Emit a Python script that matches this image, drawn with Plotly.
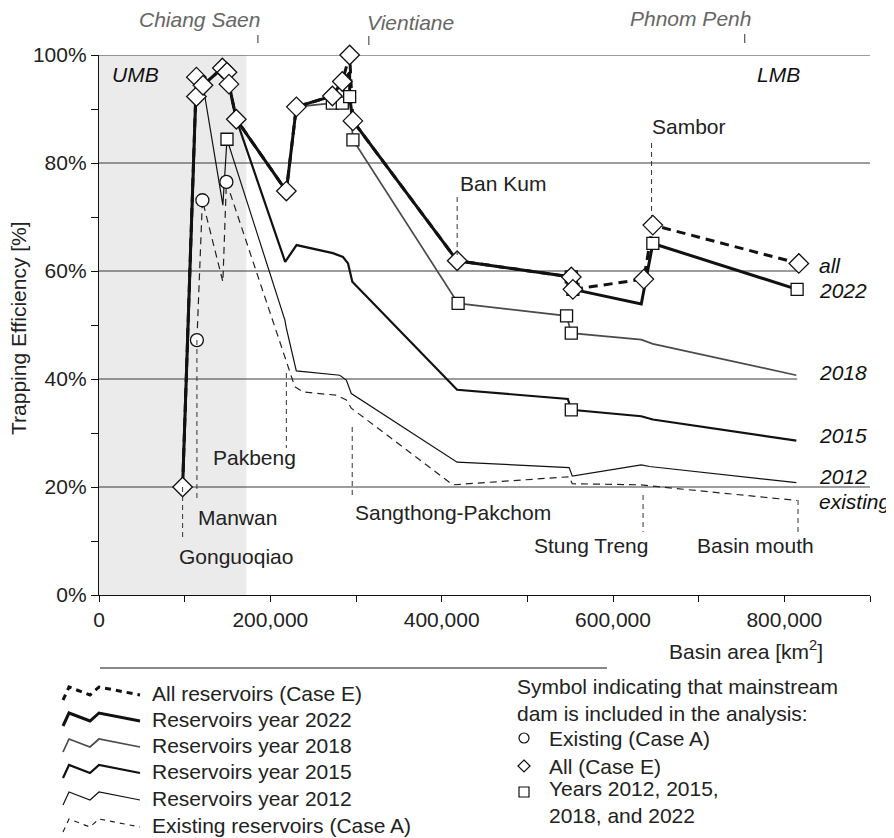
import plotly.graph_objects as go

# ---------------- data (basin area in km², trapping efficiency in %) ----------------
case_e_area = [97600, 113700, 113700, 121400, 144000, 149400, 151700, 160300, 218700, 230400,
               272400, 284000, 292600, 296400, 418100, 551300, 553200, 636000, 646500, 816900]
case_e_te = [20.0, 92.3, 95.9, 94.4, 97.6, 96.8, 94.6, 88.1, 74.8, 90.4,
             92.4, 95.1, 100.0, 87.8, 61.9, 58.9, 56.6, 58.5, 68.5, 61.4]

y2022_area = [97600, 113700, 113700, 121400, 144000, 149400, 151700, 160300, 218700, 230400,
              272400, 284000, 292600, 292600, 296400, 418100, 551300, 553200, 633000, 646500, 814900]
y2022_te = [20.0, 92.3, 95.9, 94.4, 97.6, 96.8, 94.6, 88.1, 74.8, 90.4,
            92.4, 95.1, 96.7, 92.3, 87.8, 61.9, 58.9, 56.6, 53.9, 65.1, 56.6]

y2018_area = [97600, 113700, 113700, 121400, 144000, 149400, 151700, 160300, 218700, 230400,
              272400, 284000, 292600, 296400, 419200, 545800, 551300, 633000, 646500, 814000]
y2018_te = [20.0, 92.3, 95.9, 94.4, 97.6, 96.8, 94.6, 88.1, 74.8, 90.4,
            91.1, 91.1, 92.3, 84.3, 54.0, 51.7, 48.5, 47.3, 46.5, 40.7]

y2015_area = [97600, 113700, 113700, 121400, 144000, 149400, 151700, 160300, 217300, 230600,
              273000, 284800, 290700, 295700, 418000, 547300, 551300, 633000, 646500, 814000]
y2015_te = [20.0, 92.3, 95.9, 94.4, 97.6, 96.8, 94.6, 88.1, 61.7, 64.8,
            63.3, 62.6, 61.4, 58.0, 38.0, 36.3, 34.3, 33.1, 32.5, 28.6]

y2012_area = [97600, 113700, 113700, 121400, 144600, 149400, 217000, 218700, 230300, 281000,
              288700, 294500, 418000, 548800, 552500, 633000, 642600, 814000]
y2012_te = [20.0, 92.3, 95.9, 94.4, 72.2, 84.4, 50.9, 49.4, 41.5, 40.7,
            39.8, 37.3, 24.6, 23.6, 22.0, 24.1, 23.8, 20.8]

existing_area = [114300, 120700, 144600, 148700, 228500, 238000, 277000, 288700, 294500,
                 413000, 548800, 552500, 633000, 650000, 815000]
existing_te = [47.2, 73.1, 58.0, 76.5, 38.6, 37.6, 37.0, 36.1, 34.6,
               20.4, 21.9, 20.6, 20.4, 20.1, 17.5]

circle_area = [114300, 120700, 148700]
circle_te = [47.2, 73.1, 76.5]

square_area = [149400, 272400, 284000, 292600, 296400, 419200, 545800, 551300, 553200,
               551300, 551300, 646500, 814900]
square_te = [84.4, 91.1, 91.1, 92.3, 84.3, 54.0, 51.7, 58.9, 56.6, 48.5, 34.3, 65.1, 56.6]

# dam labels: text, basin area of the dam
dam_names = ["Gonguoqiao", "Manwan", "Pakbeng", "Sangthong-Pakchom", "Ban Kum",
             "Sambor", "Stung Treng", "Basin mouth"]
dam_area = [97600, 114300, 218700, 295600, 418100, 645000, 635100, 816000]

city_names = ["Chiang Saen", "Vientiane", "Phnom Penh"]
city_area = [185500, 315000, 753800]

end_labels = ["all", "2022", "2018", "2015", "2012", "existing"]
x_ticks_major = [0, 200000, 400000, 600000, 800000]

# ---------------- layout helpers (reference pixel -> paper) ----------------
# the html page adds an 8px body margin, so the figure is drawn 8px smaller and
# all reference pixel positions are expressed relative to the page.
OFF = 8
W, H = 894 - OFF, 838 - OFF
PL, PT, PW, PH = 99, 55, 771, 540          # plot area in page pixels
XMAX = 900000


def fx(p):
    return (p - PL) / PW


def fy(p):
    return (PT + PH - p) / PH


def ty(p):  # page pixel y -> data %
    return (PT + PH - p) / PH * 100


FONT = "Liberation Sans, Arial, Helvetica, sans-serif"
FS = 21
TXT = "#222222"

fig = go.Figure()


def add_line(x, y, width, color, dash="solid"):
    fig.add_trace(go.Scatter(x=x, y=y, mode="lines",
                             line=dict(width=width, color=color, dash=dash),
                             hoverinfo="skip", showlegend=False, cliponaxis=False))


add_line(existing_area, existing_te, 1.2, "#222222", "7px,5px")
add_line(y2012_area, y2012_te, 1.2, "#111111")
add_line(y2015_area, y2015_te, 2.2, "#111111")
add_line(y2018_area, y2018_te, 1.7, "#4a4a4a")
add_line(case_e_area, case_e_te, 3.0, "#111111", "9px,6px")
add_line(y2022_area, y2022_te, 3.0, "#111111")

MK = dict(color="white", line=dict(color="#111111", width=1.3))
fig.add_trace(go.Scatter(x=square_area, y=square_te, mode="markers",
                         marker=dict(symbol="square", size=12, **MK),
                         hoverinfo="skip", showlegend=False, cliponaxis=False))
fig.add_trace(go.Scatter(x=circle_area, y=circle_te, mode="markers",
                         marker=dict(symbol="circle", size=13, **MK),
                         hoverinfo="skip", showlegend=False, cliponaxis=False))
fig.add_trace(go.Scatter(x=case_e_area, y=case_e_te, mode="markers",
                         marker=dict(symbol="diamond", size=15, **MK),
                         hoverinfo="skip", showlegend=False, cliponaxis=False))

shapes = []
# shaded upper Mekong basin
shapes.append(dict(type="rect", xref="x", yref="y", x0=0, x1=172000, y0=0, y1=100,
                   fillcolor="#ebebeb", line=dict(width=0), layer="below"))
# horizontal reference lines
for yv, xe in [(20, XMAX), (40, 815000), (60, 815000), (80, XMAX), (100, XMAX)]:
    shapes.append(dict(type="line", xref="x", yref="y", x0=0, x1=xe, y0=yv, y1=yv,
                       line=dict(color="#3a3a3a", width=1.2), layer="below"))

# leader lines for dam labels (page pixel extents)
leader_px = [(487, 537), (340, 500), (373, 448), (427, 495), (197, 255),
             (143, 218), (495, 532), (500, 532)]
for a, (p0, p1) in zip(dam_area, leader_px):
    shapes.append(dict(type="line", xref="x", yref="y", x0=a, x1=a, y0=ty(p0), y1=ty(p1),
                       line=dict(color="#333333", width=1, dash="5px,4px")))

# city ticks above the plot
for a, (p0, p1) in zip(city_area, [(35, 43), (36, 45), (34, 43)]):
    shapes.append(dict(type="line", xref="x", yref="paper", x0=a, x1=a, y0=fy(p0), y1=fy(p1),
                       line=dict(color="#333333", width=1)))

# separator line above the legend
shapes.append(dict(type="line", xref="paper", yref="paper", x0=fx(100), x1=fx(607),
                   y0=fy(668), y1=fy(668), line=dict(color="#111111", width=1.2)))

# legend icons (zigzag glyphs)
legend_rows = [693, 719, 745, 771, 798, 825]
legend_text = ["All reservoirs (Case E)", "Reservoirs year 2022", "Reservoirs year 2018",
               "Reservoirs year 2015", "Reservoirs year 2012", "Existing reservoirs (Case A)"]
legend_style = [(3.0, "#111111", "6px,5px"), (3.0, "#111111", "solid"),
                (1.7, "#4a4a4a", "solid"), (2.2, "#111111", "solid"),
                (1.2, "#111111", "solid"), (1.2, "#222222", "5px,5px")]
for c, (w, col, d) in zip(legend_rows, legend_style):
    pts = [(63, c + 7), (69, c - 6), (90, c + 2), (99, c - 6), (140, c + 2)]
    path = "M " + " L ".join(f"{fx(px):.5f},{fy(py):.5f}" for px, py in pts)
    shapes.append(dict(type="path", xref="paper", yref="paper", path=path,
                       line=dict(color=col, width=w, dash=d)))

# symbol key shapes
cx = 524
shapes.append(dict(type="circle", xref="paper", yref="paper",
                   x0=fx(cx - 5), x1=fx(cx + 5), y0=fy(738 + 5), y1=fy(738 - 5),
                   line=dict(color="#111111", width=1.2)))
dpath = "M {} {} L {} {} L {} {} L {} {} Z".format(
    fx(cx), fy(766 - 6), fx(cx + 6), fy(766), fx(cx), fy(766 + 6), fx(cx - 6), fy(766))
shapes.append(dict(type="path", xref="paper", yref="paper", path=dpath,
                   line=dict(color="#111111", width=1.2)))
shapes.append(dict(type="rect", xref="paper", yref="paper",
                   x0=fx(cx - 5), x1=fx(cx + 5), y0=fy(792 + 5), y1=fy(792 - 5),
                   line=dict(color="#111111", width=1.2)))

ann = []


def text(t, x, y, xanchor="left", italic=False, color=TXT, size=FS, angle=0, align="left"):
    ann.append(dict(text=f"<i>{t}</i>" if italic else t, xref="paper", yref="paper",
                    x=fx(x), y=fy(y), xanchor=xanchor, yanchor="middle", showarrow=False,
                    textangle=angle, align=align,
                    font=dict(family=FONT, size=size, color=color)))


# city names
text(city_names[0], 262, 20, "right", True, "#666666")
text(city_names[1], 365, 22, "left", True, "#666666")
text(city_names[2], 753, 18, "right", True, "#666666")
text("UMB", 110, 74, "left", True, "#111111")
text("LMB", 755, 74, "left", True, "#111111")

# dam labels
dam_pos = [(177, 556, "left"), (196, 517, "left"), (211, 457, "left"), (353, 512, "left"),
           (458, 183, "left"), (650, 127, "left"), (650, 545, "right"), (816, 545, "right")]
for name, (x, y, xa) in zip(dam_names, dam_pos):
    text(name, x, y, xa)

# scenario end labels
for lab, y in zip(end_labels, [265, 290, 372, 436, 476, 502]):
    text(lab, 817, y, "left", True, "#111111")

text("Basin area [km<sup>2</sup>]", 825, 650, "right")
text("Trapping Efficiency [%]", 18, 328, "center", angle=-90)

# legend texts
for t, y in zip(legend_text, legend_rows):
    text(t, 150, y)
text("Symbol indicating that mainstream<br>dam is included in the analysis:", 515, 700)
text("Existing (Case A)", 547, 738)
text("All (Case E)", 547, 766)
text("Years 2012, 2015,<br>2018, and 2022", 547, 802)

fig.update_layout(
    width=W, height=H,
    margin=dict(l=PL - OFF, r=W - (PL - OFF) - PW, t=PT - OFF, b=H - (PT - OFF) - PH, pad=0),
    paper_bgcolor="white", plot_bgcolor="white",
    font=dict(family=FONT, size=FS, color=TXT),
    showlegend=False,
    shapes=shapes, annotations=ann,
    xaxis=dict(range=[0, XMAX], showgrid=False, zeroline=False, showline=True,
               linecolor="#111111", linewidth=1.3, ticks="outside", ticklen=6,
               tickwidth=1.3, tickcolor="#111111", tickvals=x_ticks_major,
               tickformat=",d", tickfont=dict(size=FS, color=TXT),
               minor=dict(dtick=100000, tick0=0, ticks="outside", ticklen=6,
                          tickwidth=1.3, tickcolor="#111111", showgrid=False)),
    yaxis=dict(range=[0, 100], showgrid=False, zeroline=False, showline=True,
               linecolor="#111111", linewidth=1.3, ticks="outside", ticklen=7,
               tickwidth=1.3, tickcolor="#111111", dtick=20, tick0=0,
               ticksuffix="%", tickfont=dict(size=FS, color=TXT),
               minor=dict(dtick=10, tick0=0, ticks="outside", ticklen=7,
                          tickwidth=1.3, tickcolor="#111111", showgrid=False)),
)

fig.write_html("out.html")
